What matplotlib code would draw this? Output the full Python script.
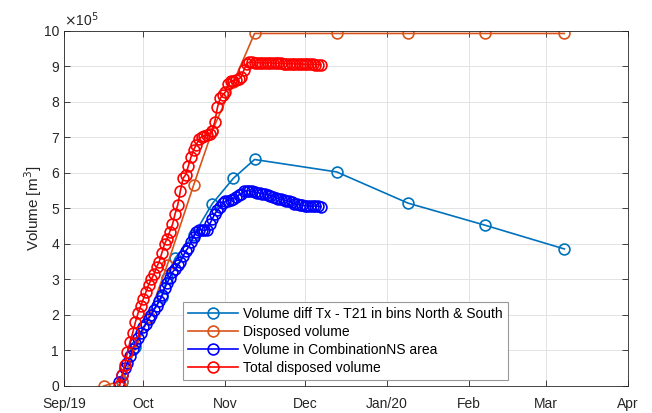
import numpy as np
import pandas as pd
import matplotlib
matplotlib.use("Agg")
import matplotlib.pyplot as plt
import matplotlib.dates as mdates

plt.rcParams['font.family'] = ['Liberation Sans', 'DejaVu Sans']

# volumes in units of 1e5 m^3
diff_dates = ["2019-09-23", "2019-09-28", "2019-10-03", "2019-10-08", "2019-10-10",
              "2019-10-13", "2019-10-20", "2019-10-27", "2019-11-04", "2019-11-12",
              "2019-12-13", "2020-01-09", "2020-02-07", "2020-03-08"]
diff_vol = [0.1, 1.1, 1.94, 2.5, 3.05, 3.6, 4.25, 5.13, 5.85, 6.38, 6.03, 5.15, 4.53, 3.86]

disp_dates = ["2019-09-16", "2019-09-23", "2019-10-03", "2019-10-10", "2019-10-20",
              "2019-10-27", "2019-11-04", "2019-11-12", "2019-12-13", "2020-01-09",
              "2020-02-07", "2020-03-08"]
disp_vol = [0.0, 0.15, 1.95, 3.4, 5.66, 7.18, 8.55, 9.93, 9.93, 9.93, 9.93, 9.93]

# daily series Sep 22 - Dec 7
daily_dates = pd.date_range("2019-09-22", "2019-12-07", freq="D")
combi_vol = [0.1, 0.3, 0.5, 0.65, 0.85, 1.05, 1.2, 1.35, 1.5, 1.65,
             1.75, 1.9, 2.0, 2.15, 2.25, 2.4, 2.55, 2.75, 2.9, 3.05,
             3.2, 3.3, 3.4, 3.5, 3.65, 3.8, 3.9, 4.05, 4.2, 4.35,
             4.4, 4.4, 4.38, 4.4, 4.55, 4.7, 4.85, 4.95, 5.05, 5.15,
             5.2, 5.22, 5.25, 5.28, 5.32, 5.38, 5.42, 5.48, 5.5,
             5.50, 5.48, 5.46, 5.45, 5.43, 5.41, 5.40, 5.38, 5.36, 5.33,
             5.30, 5.28, 5.26, 5.24, 5.22, 5.20, 5.17, 5.14, 5.12, 5.10,
             5.09, 5.08, 5.08, 5.07, 5.07, 5.07, 5.06, 5.05]
total_vol = [0.0, 0.3, 0.6, 0.95, 1.25, 1.5, 1.8, 2.05, 2.25, 2.45,
             2.65, 2.85, 3.0, 3.15, 3.35, 3.5, 3.75, 4.0, 4.15, 4.35,
             4.55, 4.85, 5.1, 5.5, 5.85, 5.95, 6.2, 6.45, 6.65, 6.8,
             6.95, 7.02, 7.05, 7.06, 7.1, 7.18, 7.45, 7.85, 8.1, 8.2,
             8.28, 8.5, 8.58, 8.6, 8.62, 8.65, 8.7, 8.9, 9.08,
             9.12, 9.12, 9.11, 9.11, 9.11, 9.10, 9.10, 9.10, 9.10, 9.09,
             9.09, 9.09, 9.09, 9.08, 9.08, 9.08, 9.08, 9.07, 9.07, 9.07,
             9.07, 9.06, 9.06, 9.06, 9.06, 9.05, 9.05, 9.05]

month_ticks = pd.date_range("2019-09-01", "2020-04-01", freq="MS")
month_labels = ["Sep/19", "Oct", "Nov", "Dec", "Jan/20", "Feb", "Mar", "Apr"]

fig = plt.figure(figsize=(6.52, 4.13), dpi=100)
ax = fig.add_axes([0.098, 0.0654, 0.865, 0.8596])

mk = dict(marker='o', markersize=7.8, markerfacecolor='none', markeredgewidth=1.2, linewidth=1.2)
ax.plot(pd.to_datetime(diff_dates), diff_vol, color='#0072BD',
        label='Volume diff Tx - T21 in bins North & South', **mk)
ax.plot(pd.to_datetime(disp_dates), disp_vol, color='#D95319',
        label='Disposed volume', **mk)
ax.plot(daily_dates, combi_vol, color='#0000FF',
        label='Volume in CombinationNS area', **mk)
ax.plot(daily_dates, total_vol, color='#FF0000',
        label='Total disposed volume', **mk)

ax.set_xlim(month_ticks[0], month_ticks[-1])
ax.set_ylim(0, 10)
ax.set_xticks(month_ticks)
ax.set_xticklabels(month_labels)
ax.set_yticks(range(0, 11))
ax.tick_params(direction='in', top=True, right=True, labelsize=10,
               colors='#262626', length=4, width=0.6)
ax.tick_params(axis='x', pad=8)
for spine in ax.spines.values():
    spine.set_color('#262626')
    spine.set_linewidth(0.6)
ax.grid(True, color='#e3e3e3', linewidth=0.7)
ax.set_axisbelow(True)

ax.set_ylabel('Volume [m$^3$]', fontsize=11, color='#262626', labelpad=0)
ax.text(0.0, 1.005, r'$\times$10$^5$', transform=ax.transAxes, fontsize=10,
        color='#262626', ha='left', va='bottom')

leg = ax.legend(loc='lower left', bbox_to_anchor=(0.211, 0.017), fontsize=10,
                fancybox=False, framealpha=1, edgecolor='#999999',
                handlelength=3.6, handletextpad=0.4, labelspacing=0.3,
                borderpad=0.35, borderaxespad=0)
leg.get_frame().set_linewidth(0.8)

fig.savefig('out.png', dpi=100)
